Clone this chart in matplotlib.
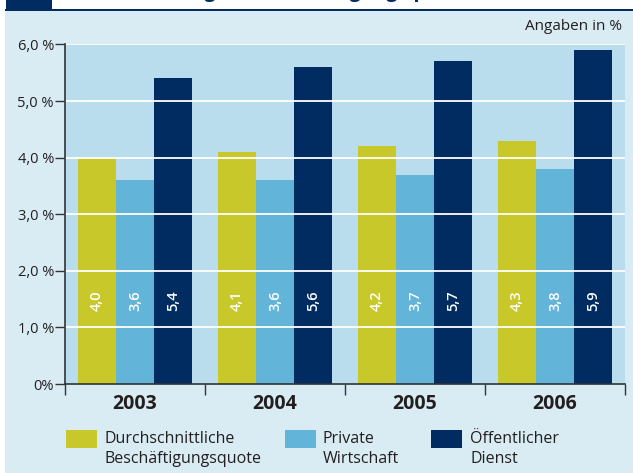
import matplotlib
matplotlib.use("Agg")
import matplotlib.pyplot as plt
from matplotlib.patches import Rectangle
import numpy as np

years = ["2003", "2004", "2005", "2006"]
series_names = ["Durchschnittliche\nBeschäftigungsquote", "Private\nWirtschaft", "Öffentlicher\nDienst"]
durchschnitt = [4.0, 4.1, 4.2, 4.3]
privat = [3.6, 3.6, 3.7, 3.8]
oeffentlich = [5.4, 5.6, 5.7, 5.9]
yticks = [0, 1, 2, 3, 4, 5, 6]
ytick_labels = ["0%", "1,0 %", "2,0 %", "3,0 %", "4,0 %", "5,0 %", "6,0 %"]
title = "Entwicklung der Beschäftigungsquote"
unit_note = "Angaben in %"

colors = ["#c9c82b", "#62b4d9", "#002c62"]
fig_bg = "#d9ecf4"
plot_bg = "#b9ddec"
navy = "#002c62"
txt = "#231f20"

plt.rcParams['font.family'] = ['Open Sans', 'DejaVu Sans']

W, H = 633, 473
fig = plt.figure(figsize=(W / 100, H / 100), dpi=100)
fig.patch.set_facecolor("white")

# background panel
fig.add_artist(Rectangle((5 / W, 0), 1 - 5 / W, 1 - 10 / H, transform=fig.transFigure,
                         facecolor=fig_bg, edgecolor="none", zorder=0))
# header line and block
fig.add_artist(Rectangle((5 / W, 1 - 11.5 / H), 1 - 5 / W, 2.5 / H, transform=fig.transFigure,
                         facecolor=navy, edgecolor="none", zorder=1))
fig.add_artist(Rectangle((6 / W, 1 - 10 / H), 46 / W, 10 / H, transform=fig.transFigure,
                         facecolor=navy, edgecolor="none", zorder=1))
fig.text(280 / W, 1 + 2.5 / H, title, ha="center", va="baseline", fontsize=14,
         fontweight="bold", color=navy)

ax = fig.add_axes([65 / W, 1 - 384 / H, (625 - 65) / W, (384 - 44.5) / H])
ax.set_facecolor(plot_bg)

x = np.arange(len(years))
bw = 0.272
data = [durchschnitt, privat, oeffentlich]
for i, (vals, c) in enumerate(zip(data, colors)):
    xs = x + (i - 1) * bw
    ax.bar(xs, vals, width=bw, color=c, zorder=2, linewidth=0)
    for xi, v in zip(xs, vals):
        ax.text(xi, 1.47, f"{v:.1f}".replace(".", ","), rotation=90, ha="center",
                va="center", color="white", fontsize=10.5, fontweight="semibold", zorder=4)

for yv in yticks[1:]:
    ax.axhline(yv, color="white", lw=1.3, zorder=3)

ax.set_xlim(-0.5, len(years) - 0.5)
ax.set_ylim(0, 6)
ax.set_yticks(yticks)
ax.set_yticklabels(ytick_labels, fontsize=10.5, color=txt)
ax.tick_params(axis="y", length=7, width=1, color="#333333", pad=1)

ax.set_xticks(x)
ax.set_xticklabels(years, fontsize=14, fontweight="bold", color=txt)
ax.set_xticks(np.arange(len(years) + 1) - 0.5, minor=True)
ax.tick_params(axis="x", which="major", length=0, pad=7)
ax.tick_params(axis="x", which="minor", length=8, width=1, color="#333333")

for s in ["top", "right"]:
    ax.spines[s].set_visible(False)
for s in ["left", "bottom"]:
    ax.spines[s].set_color("#333333")
    ax.spines[s].set_linewidth(1.2)
    ax.spines[s].set_zorder(5)

fig.text(622 / W, 1 - 27 / H, unit_note, ha="right", va="center", fontsize=11, color=txt)

# legend
sq_x = [66, 285, 431]
txt_x = [105, 323, 470]
for sx, tx, c, name in zip(sq_x, txt_x, colors, series_names):
    fig.add_artist(Rectangle((sx / W, 1 - 448 / H), 31 / W, 18 / H, transform=fig.transFigure,
                             facecolor=c, edgecolor="none"))
    fig.text(tx / W, 1 - 449 / H, name, ha="left", va="center", fontsize=11.5,
             color=txt, linespacing=1.3)

fig.savefig("out.png", dpi=100, facecolor=fig.get_facecolor())
